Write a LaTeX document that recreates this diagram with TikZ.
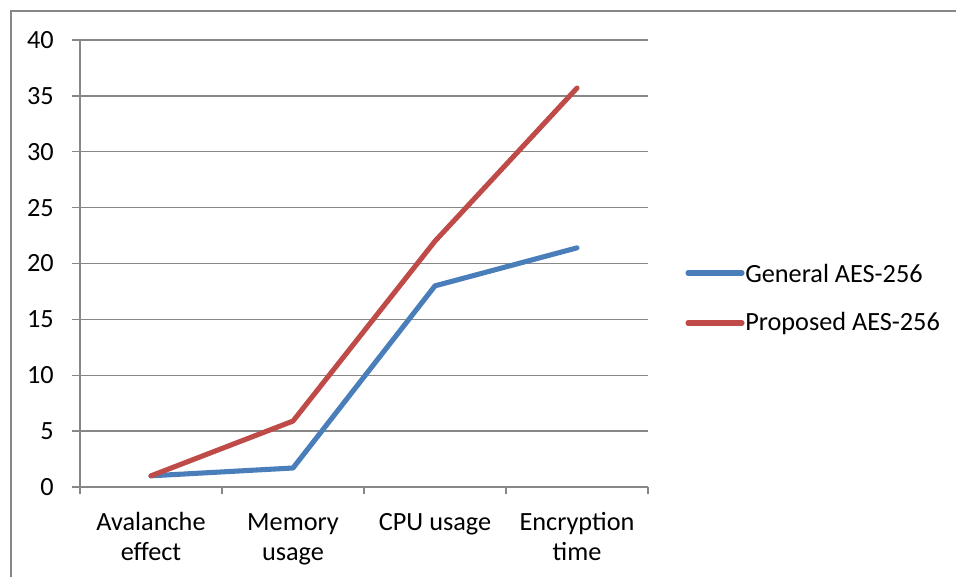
\documentclass[tikz,border=0pt]{standalone}
\usepackage{fontspec}
\setmainfont{Carlito}
\usepackage{xcolor}
\usetikzlibrary{calc}
\definecolor{genblue}{HTML}{4A7EBB}
\definecolor{propred}{HTML}{BE4B48}
\definecolor{gridgray}{HTML}{878787}

\begin{document}
\begin{tikzpicture}[x=0.75pt,y=-0.75pt,
    lbl/.style={font=\fontsize{19.7}{22.5}\selectfont,inner sep=0pt},
    gridln/.style={gridgray,line width=1.1pt},
    serie/.style={line width=3.8pt,line cap=round,line join=round}]
  \useasboundingbox (0,0) rectangle (956,577);
  \draw[gridgray,line width=1.5pt] (11,577) -- (11,11) -- (956,11);
  \foreach \v in {0,5,...,40}{
    \draw[gridln] (72,{487-\v*11.175}) -- (648,{487-\v*11.175});
    \node[lbl,anchor=east] (y\v) at (54,{487-\v*11.175}) {\v};
  }
  \draw[gridln] (80,40) -- (80,487);
  \foreach \ii in {0,...,4}
    \draw[gridln] ({80+\ii*142},487) -- ({80+\ii*142},494);
  \node[lbl,anchor=base,align=center] (avl) at (151,560) {Avalanche\\effect};
  \node[lbl,anchor=base,align=center] (mem) at (293,560) {Memory\\usage};
  \node[lbl,anchor=base,align=center] (cpu) at (435,530) {CPU usage};
  \node[lbl,anchor=base,align=center] (enc) at (577,560) {Encryption\\time};
  \foreach \val [count=\ii] in {1,1.7,18,21.4}
    \coordinate (g\ii) at ({151+(\ii-1)*142},{487-\val*11.175});
  \foreach \val [count=\ii] in {1,5.9,22,35.7}
    \coordinate (p\ii) at ({151+(\ii-1)*142},{487-\val*11.175});
  \draw[serie,genblue] (g1) -- (g2) -- (g3) -- (g4);
  \draw[serie,propred] (p1) -- (p2) -- (p3) -- (p4);
  \coordinate (gA) at (688,273);
  \coordinate (gB) at (742,273);
  \coordinate (pA) at (688,323);
  \coordinate (pB) at (742,323);
  \draw[serie,genblue] (gA) -- (gB);
  \draw[serie,propred] (pA) -- (pB);
  \node[lbl,anchor=west] (gen) at (745,273) {General AES-256};
  \node[lbl,anchor=west] (prop) at (745,323) {Proposed AES-256};
\end{tikzpicture}
\end{document}
